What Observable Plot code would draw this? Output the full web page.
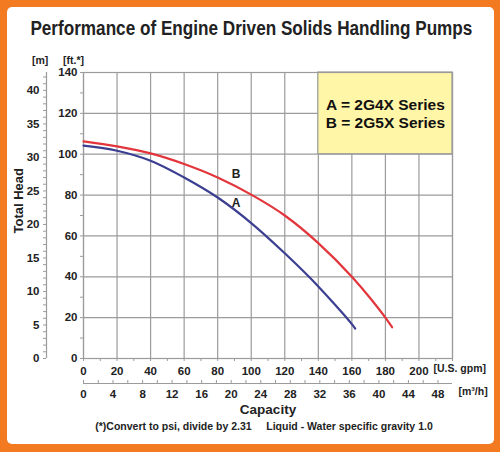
<!DOCTYPE html>
<html><head><meta charset="utf-8">
<script src="https://cdn.jsdelivr.net/npm/d3@7"></script>
<script src="https://cdn.jsdelivr.net/npm/@observablehq/plot@0.6"></script>
<style>
body{margin:0;background:#fff;}
#wrap{position:relative;width:500px;height:452px;background:#F37A21;overflow:hidden;font-family:"Liberation Sans",Arial,sans-serif;}
#inner{position:absolute;left:7px;top:7px;right:6px;bottom:8px;background:#fff;border-radius:5px;}
#title{position:absolute;left:0;top:14px;width:500px;text-align:center;font-family:"Liberation Sans",Arial,sans-serif;font-weight:bold;font-size:19.5px;color:#222;line-height:28px;white-space:nowrap;}
#title span{display:inline-block;transform-origin:center center;}
#chart{position:absolute;left:0;top:45px;}
</style></head>
<body>
<div id="wrap"><div id="inner"></div>
<div id="title"><span id="titleText">Performance of Engine Driven Solids Handling Pumps</span></div>
<div id="chart"></div></div>
<script>
// ---- data (capacity in U.S. gpm, total head in ft) ----
const capacityA = [0, 20, 40, 60, 80, 100, 120, 140, 150, 160, 162];
const headA     = [104.2, 101.7, 96.8, 88.6, 78.8, 66.3, 51.5, 35.3, 26.3, 16.8, 14.6];
const capacityB = [0, 20, 40, 60, 80, 100, 120, 140, 160, 170, 180, 184];
const headB     = [106.3, 103.8, 100.4, 95.2, 88.6, 80.2, 70, 56.5, 40, 30.5, 20, 15.3];

const gpmTicks  = [0, 20, 40, 60, 80, 100, 120, 140, 160, 180, 200];
const gpmGrid   = [0, 20, 40, 60, 80, 100, 120, 140, 160, 180, 200, 220];
const ftTicks   = [0, 20, 40, 60, 80, 100, 120, 140];
const mTicks    = [0, 5, 10, 15, 20, 25, 30, 35, 40];
const m3hTicks  = [0, 4, 8, 12, 16, 20, 24, 28, 32, 36, 40, 44, 48];

const legendLines = ["A = 2G4X Series", "B = 2G5X Series"];
const legendBox = {x1: 140, x2: 220, y1: 100, y2: 140};
const curveLabels = [{label: "B", gpm: 91, ft: 90.2}, {label: "A", gpm: 91, ft: 76.1}];

const FT_PER_M = 3.28084;
const GPM_PER_M3H = 4.40287;

const xMax = gpmGrid[gpmGrid.length - 1];
const yMax = ftTicks[ftTicks.length - 1];

const rowsA = capacityA.map((g, i) => ({gpm: g, ft: headA[i]}));
const rowsB = capacityB.map((g, i) => ({gpm: g, ft: headB[i]}));

const gridColor = "#9b9b9b";
const minorFt = d3.range(0, yMax + 1, 10);
const minorGpm = d3.range(0, xMax + 1, 10);
const minorM = d3.range(0, Math.floor(yMax / FT_PER_M) + 1, 1).map(m => m * FT_PER_M);
const minorM3h = d3.range(0, Math.floor(xMax / GPM_PER_M3H) + 1, 2).map(v => v * GPM_PER_M3H);

const chart = Plot.plot({
  width: 500, height: 399,
  marginLeft: 83, marginRight: 48, marginTop: 27, marginBottom: 86,
  x: {domain: [0, xMax], axis: null},
  y: {domain: [0, yMax], axis: null},
  style: {fontFamily: "'Liberation Sans', Arial, sans-serif", fontWeight: "bold", fontSize: "11.5px", color: "#222", background: "transparent", overflow: "visible"},
  marks: [
    Plot.gridX(gpmGrid, {stroke: gridColor, strokeOpacity: 1, strokeWidth: 1.2}),
    Plot.gridY(ftTicks, {stroke: gridColor, strokeOpacity: 1, strokeWidth: 1.2}),
    Plot.rect([legendBox], {x1: "x1", x2: "x2", y1: "y1", y2: "y2", fill: "#FFF6A8", stroke: gridColor, strokeWidth: 1.2}),
    Plot.frame({stroke: gridColor, strokeWidth: 1.2}),
    // ft axis
    Plot.axisY(minorFt, {anchor: "left", tickSize: 3, tickFormat: () => "", stroke: gridColor}),
    Plot.axisY(ftTicks, {anchor: "left", tickSize: 0, tickPadding: 6}),
    // m axis
    Plot.ruleX([0], {y1: 0, y2: yMax, dx: -37, stroke: gridColor, strokeWidth: 1.2}),
    Plot.axisY(minorM, {anchor: "left", tickSize: 3, dx: -37, tickFormat: () => "", stroke: gridColor}),
    Plot.axisY(mTicks.map(m => m * FT_PER_M), {anchor: "left", tickSize: 0, tickPadding: 7, dx: -37, tickFormat: d => Math.round(d / FT_PER_M)}),
    // gpm axis
    Plot.axisX(minorGpm, {anchor: "bottom", tickSize: 3, tickFormat: () => "", stroke: gridColor}),
    Plot.axisX(gpmTicks, {anchor: "bottom", tickSize: 0, tickPadding: 8.5}),
    // m3/h axis
    Plot.ruleY([0], {x1: 0, x2: xMax, dy: 25, stroke: gridColor, strokeWidth: 1.2}),
    Plot.axisX(minorM3h, {anchor: "bottom", tickSize: 3, dy: 22, tickFormat: () => "", stroke: gridColor}),
    Plot.axisX(m3hTicks.map(v => v * GPM_PER_M3H), {anchor: "bottom", tickSize: 0, tickPadding: 31.5, tickFormat: d => Math.round(d / GPM_PER_M3H)}),
    // curves
    Plot.line(rowsA, {x: "gpm", y: "ft", stroke: "#3B3F91", strokeWidth: 2.2, curve: "monotone-x"}),
    Plot.line(rowsB, {x: "gpm", y: "ft", stroke: "#E2363C", strokeWidth: 2.2, curve: "monotone-x"}),
    Plot.text(curveLabels, {x: "gpm", y: "ft", text: "label", fontSize: 12, fill: "#222"}),
    // legend text
    Plot.text([legendLines.join("\n")], {x: (legendBox.x1 + legendBox.x2) / 2, y: (legendBox.y1 + legendBox.y2) / 2, fontSize: 15.5, lineHeight: 1.15, fill: "#111"}),
    // unit labels & titles
    Plot.text(["[m]"], {frameAnchor: "top-left", dx: -51.5, dy: -16, fontSize: 10.5}),
    Plot.text(["[ft.*]"], {frameAnchor: "top-left", dx: -20.5, dy: -16, fontSize: 10.5}),
    Plot.text(["Total Head"], {frameAnchor: "left", dx: -65, dy: 18, rotate: -90, fontSize: 13}),
    Plot.text(["[U.S. gpm]"], {frameAnchor: "bottom-right", textAnchor: "start", dx: -19, dy: 13, fontSize: 10.5}),
    Plot.text(["[m³/h]"], {frameAnchor: "bottom-right", textAnchor: "start", dx: 6, dy: 36, fontSize: 10.5}),
    Plot.text(["Capacity"], {frameAnchor: "bottom", dy: 55.5, fontSize: 13.5}),
    Plot.text(["(*)Convert to psi, divide by 2.31\u00A0\u00A0\u00A0\u00A0\u00A0Liquid - Water specific gravity 1.0"], {frameAnchor: "bottom", dx: -4, dy: 71.5, fontSize: 10.5})
  ]
});
document.getElementById("chart").appendChild(chart);

// fit the condensed-looking title into the reference width
const t = document.getElementById("titleText");
const w = t.getBoundingClientRect().width;
t.style.transform = `scaleX(${442 / w})`;
</script>
</body></html>
